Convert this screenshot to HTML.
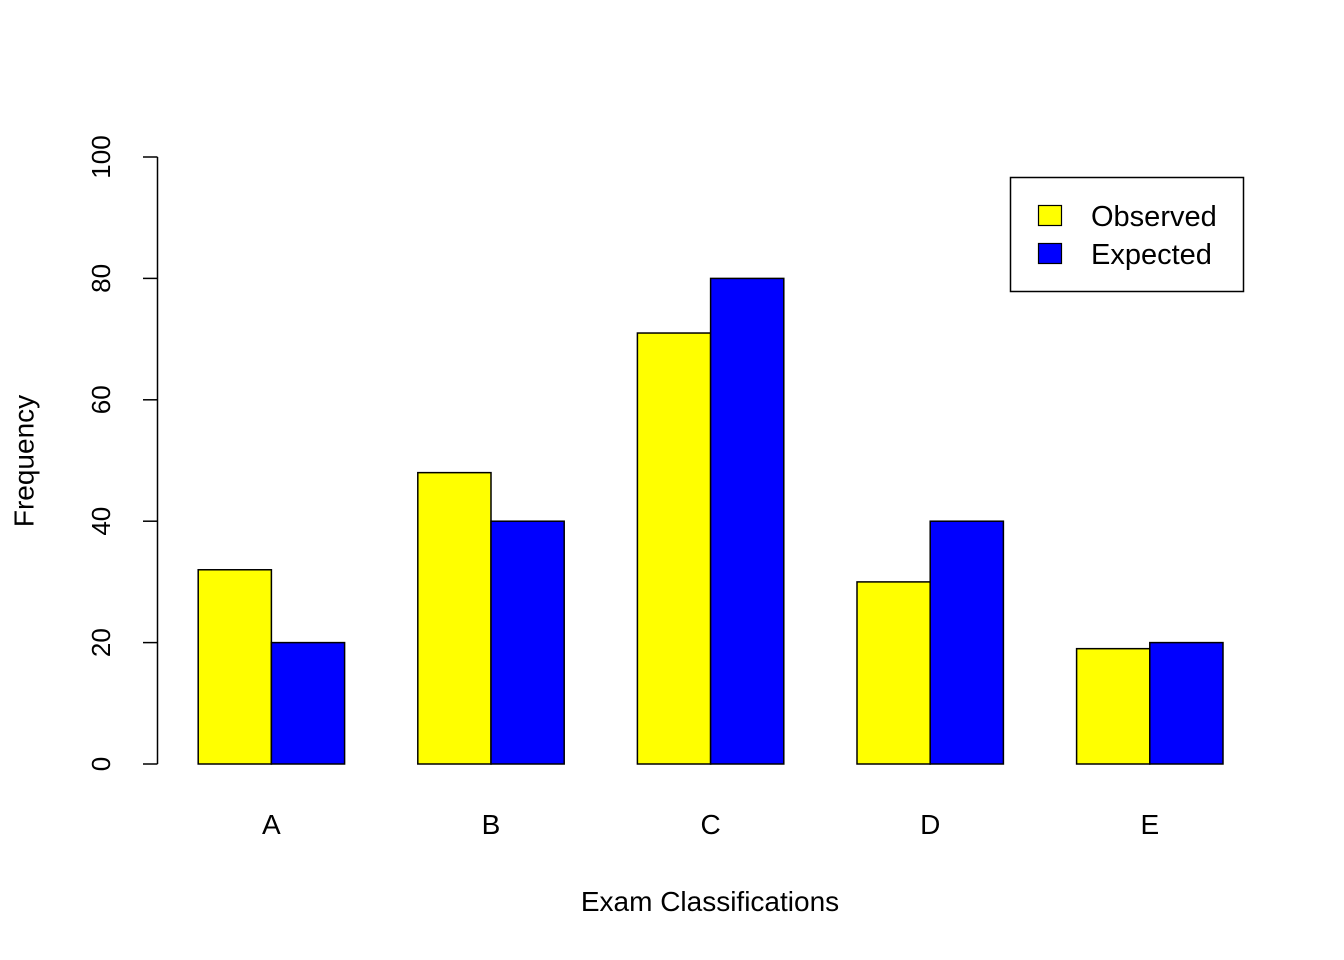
<!DOCTYPE html>
<html><head><meta charset="utf-8"><style>
html,body{margin:0;padding:0;background:#fff;}
svg{display:block;font-family:"Liberation Sans",Arial,sans-serif;}
</style></head><body>
<svg id="chart" width="1344" height="960" viewBox="0 0 1344 960" xmlns="http://www.w3.org/2000/svg">
<rect width="1344" height="960" fill="#fff"/>
<g id="bars"></g>
<g id="yaxis"></g>
<g id="xlabels"></g>
<text x="24" y="461" transform="rotate(-90 24 461)" text-anchor="middle" dominant-baseline="central" font-size="28">Frequency</text>
<text x="710" y="911" text-anchor="middle" font-size="28">Exam Classifications</text>
<g>
<rect x="1010.5" y="177.5" width="233" height="114" fill="#fff" stroke="#000" stroke-width="1.5"/>
<rect x="1038.5" y="205.5" width="23" height="20" fill="#ffff00" stroke="#000" stroke-width="1.2"/>
<text x="1091" y="226" font-size="29">Observed</text>
<rect x="1038.5" y="243.5" width="23" height="20" fill="#0000ff" stroke="#000" stroke-width="1.2"/>
<text x="1091" y="264" font-size="29">Expected</text>
</g>
</svg>
<script>
const categories = ["A","B","C","D","E"];
const observed = [32,48,71,30,19];
const expected = [20,40,80,40,20];
const yTicks = [0,20,40,60,80,100];
const NS="http://www.w3.org/2000/svg";
const y0=764, y1=157, yMax=100;
function yScale(v){return y0-(y0-y1)*v/yMax;}
const barW=73.2, groupStep=219.6, firstX=198.2;
function xGroup(i){return firstX+i*groupStep;}
const bars=document.getElementById('bars');
function bar(x,v,fill,name){
  const r=document.createElementNS(NS,'rect');
  r.setAttribute('x',x);r.setAttribute('y',yScale(v));
  r.setAttribute('width',barW);r.setAttribute('height',y0-yScale(v));
  r.setAttribute('fill',fill);r.setAttribute('stroke','#000');r.setAttribute('stroke-width','1.5');
  
  
  bars.appendChild(r);
}
categories.forEach((c,i)=>{
  bar(xGroup(i),observed[i],'#ffff00','bar-observed-'+c.toLowerCase());
  bar(xGroup(i)+barW,expected[i],'#0000ff','bar-expected-'+c.toLowerCase());
  const t=document.createElementNS(NS,'text');
  t.setAttribute('x',xGroup(i)+barW);t.setAttribute('y',834);
  t.setAttribute('text-anchor','middle');t.setAttribute('font-size','28');
  t.textContent=c;
  
  
  document.getElementById('xlabels').appendChild(t);
});
const ya=document.getElementById('yaxis');
const ln=document.createElementNS(NS,'line');
ln.setAttribute('x1',157.5);ln.setAttribute('x2',157.5);ln.setAttribute('y1',yScale(0));ln.setAttribute('y2',yScale(100));
ln.setAttribute('stroke','#000');ln.setAttribute('stroke-width','1.5');


ya.appendChild(ln);
yTicks.forEach(v=>{
  const tk=document.createElementNS(NS,'line');
  tk.setAttribute('x1',143);tk.setAttribute('x2',157.5);tk.setAttribute('y1',yScale(v));tk.setAttribute('y2',yScale(v));
  tk.setAttribute('stroke','#000');tk.setAttribute('stroke-width','1.5');
  
  
  ya.appendChild(tk);
  const t=document.createElementNS(NS,'text');
  const yy=yScale(v);
  t.setAttribute('x',110);t.setAttribute('y',yy);
  t.setAttribute('transform','rotate(-90 110 '+yy+')');
  t.setAttribute('text-anchor','middle');t.setAttribute('font-size','26');
  t.textContent=v;
  
  
  ya.appendChild(t);
});
</script>
</body></html>
